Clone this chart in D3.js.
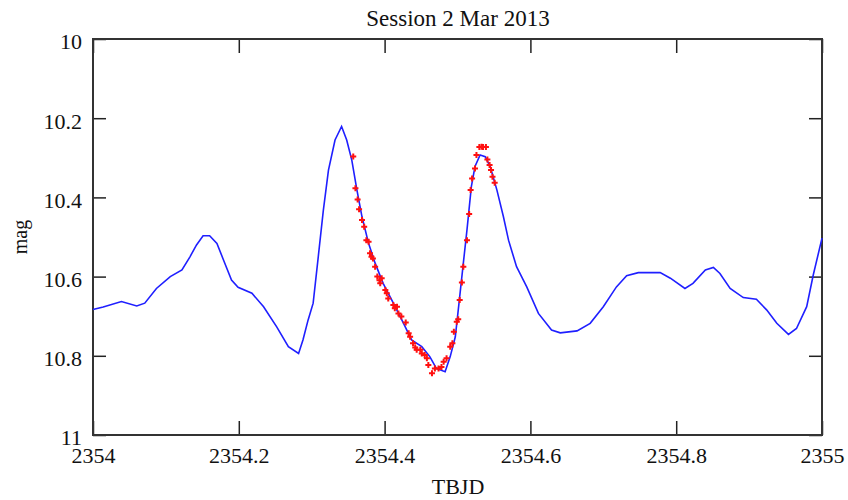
<!DOCTYPE html>
<html>
<head>
<meta charset="utf-8">
<script src="https://cdn.jsdelivr.net/npm/d3@7"></script>
<style>
  body { margin: 0; background: #fff; }
  text { font-family: "Liberation Serif", "Times New Roman", serif; fill: #111; }
</style>
</head>
<body>
<svg id="chart" width="848" height="500"></svg>
<script>
// model light curve (blue line)
const modelT = [2354.000, 2354.014, 2354.039, 2354.060, 2354.071, 2354.087, 2354.106, 2354.122, 2354.133, 2354.142,
  2354.151, 2354.160, 2354.170, 2354.179, 2354.190, 2354.199, 2354.218, 2354.234, 2354.252, 2354.268,
  2354.282, 2354.288, 2354.295, 2354.302, 2354.309, 2354.316, 2354.323, 2354.332, 2354.341, 2354.348,
  2354.355, 2354.362, 2354.369, 2354.378, 2354.387, 2354.398, 2354.412, 2354.426, 2354.437, 2354.451,
  2354.462, 2354.471, 2354.483, 2354.490, 2354.497, 2354.503, 2354.508, 2354.513, 2354.519, 2354.524,
  2354.531, 2354.538, 2354.545, 2354.554, 2354.563, 2354.570, 2354.581, 2354.595, 2354.611, 2354.629,
  2354.641, 2354.664, 2354.682, 2354.700, 2354.718, 2354.732, 2354.748, 2354.778, 2354.792, 2354.812,
  2354.823, 2354.840, 2354.851, 2354.860, 2354.874, 2354.892, 2354.910, 2354.924, 2354.938, 2354.954,
  2354.965, 2354.979, 2354.988, 2355.000];
const modelMag = [10.683, 10.677, 10.663, 10.674, 10.667, 10.630, 10.600, 10.583, 10.550, 10.520,
  10.497, 10.497, 10.516, 10.558, 10.609, 10.627, 10.642, 10.676, 10.727, 10.777,
  10.794, 10.760, 10.710, 10.667, 10.550, 10.432, 10.331, 10.255, 10.221, 10.255,
  10.306, 10.381, 10.449, 10.516, 10.566, 10.617, 10.667, 10.718, 10.760, 10.777,
  10.802, 10.832, 10.840, 10.802, 10.752, 10.651, 10.566, 10.482, 10.373, 10.322,
  10.293, 10.297, 10.323, 10.381, 10.449, 10.508, 10.575, 10.626, 10.693, 10.735,
  10.742, 10.737, 10.718, 10.676, 10.626, 10.598, 10.590, 10.590, 10.604, 10.630,
  10.617, 10.583, 10.577, 10.592, 10.630, 10.653, 10.657, 10.684, 10.718, 10.746,
  10.731, 10.676, 10.596, 10.503];

// observations (red crosses)
const obsT = [2354.357, 2354.360, 2354.363, 2354.365, 2354.369, 2354.372, 2354.375, 2354.378, 2354.380, 2354.382,
  2354.384, 2354.387, 2354.390, 2354.393, 2354.394, 2354.396, 2354.401, 2354.403, 2354.405, 2354.412,
  2354.414, 2354.417, 2354.419, 2354.423, 2354.429, 2354.433, 2354.435, 2354.439, 2354.442, 2354.444,
  2354.449, 2354.451, 2354.455, 2354.458, 2354.460, 2354.465, 2354.469, 2354.474, 2354.478, 2354.481,
  2354.485, 2354.490, 2354.493, 2354.495, 2354.499, 2354.501, 2354.503, 2354.506, 2354.508, 2354.513,
  2354.516, 2354.518, 2354.520, 2354.524, 2354.526, 2354.530, 2354.533, 2354.535, 2354.539, 2354.541,
  2354.544, 2354.546, 2354.548, 2354.551];
const obsMag = [10.297, 10.377, 10.405, 10.430, 10.457, 10.474, 10.508, 10.512, 10.541, 10.550,
  10.554, 10.575, 10.600, 10.609, 10.617, 10.604, 10.634, 10.642, 10.655, 10.672,
  10.680, 10.676, 10.693, 10.701, 10.716, 10.743, 10.752, 10.768, 10.779, 10.785,
  10.785, 10.794, 10.798, 10.806, 10.823, 10.844, 10.832, 10.832, 10.828, 10.815,
  10.806, 10.777, 10.768, 10.739, 10.714, 10.708, 10.659, 10.615, 10.575, 10.508,
  10.442, 10.381, 10.352, 10.327, 10.293, 10.273, 10.272, 10.273, 10.273, 10.304,
  10.318, 10.331, 10.348, 10.363];

const xTicks = [2354, 2354.2, 2354.4, 2354.6, 2354.8, 2355];
const yTicks = [10, 10.2, 10.4, 10.6, 10.8, 11];

const margin = {top: 39, left: 93, right: 26, bottom: 65};
const width = 848, height = 500;

const svg = d3.select("#chart");

const x = d3.scaleLinear()
    .domain([2354, 2355])
    .range([margin.left, width - margin.right]);

const y = d3.scaleLinear()
    .domain([10, 11])
    .range([margin.top, height - margin.bottom]);

// bottom axis, ticks pointing inward
svg.append("g")
    .attr("transform", `translate(0, ${y(11)})`)
    .call(d3.axisBottom(x).tickValues(xTicks).tickSize(-14).tickPadding(12)
        .tickFormat(d => d3.format("")(+d.toFixed(1))))
    .call(g => g.select(".domain").remove())
    .selectAll("text").style("font-size", "22px");

// left axis
svg.append("g")
    .attr("transform", `translate(${x(2354)}, 0)`)
    .call(d3.axisLeft(y).tickValues(yTicks).tickSize(-13).tickPadding(11)
        .tickFormat(d => d3.format("")(+d.toFixed(1))))
    .call(g => g.select(".domain").remove())
    .selectAll("text").attr("dy", "0.45em").style("font-size", "22px");

// mirrored ticks on top and right
svg.append("g")
    .attr("transform", `translate(0, ${y(10)})`)
    .call(d3.axisTop(x).tickValues(xTicks).tickSize(-14).tickFormat(""))
    .call(g => g.select(".domain").remove());

svg.append("g")
    .attr("transform", `translate(${x(2355)}, 0)`)
    .call(d3.axisRight(y).tickValues(yTicks).tickSize(-13).tickFormat(""))
    .call(g => g.select(".domain").remove());

svg.selectAll(".tick line").attr("stroke", "#222").attr("stroke-width", 1.5);

// frame
svg.append("rect")
    .attr("x", x(2354))
    .attr("y", y(10))
    .attr("width", x(2355) - x(2354))
    .attr("height", y(11) - y(10))
    .attr("fill", "none")
    .attr("stroke", "#333")
    .attr("stroke-width", 2);

// model line
const line = d3.line()
    .x((d, i) => x(modelT[i]))
    .y(d => y(d));

svg.append("path")
    .datum(modelMag)
    .attr("d", line)
    .attr("fill", "none")
    .attr("stroke", "#1f1fff")
    .attr("stroke-width", 1.6);

// observed points as + markers
const cross = d3.symbol().type(d3.symbolCross).size(0);
svg.append("g")
    .selectAll("path")
    .data(obsMag)
    .enter()
    .append("path")
    .attr("d", "M-3,0H3M0,-3V3")
    .attr("transform", (d, i) => `translate(${x(obsT[i])}, ${y(d)})`)
    .attr("stroke", "#ff1010")
    .attr("stroke-width", 2)
    .attr("fill", "none");

// titles
svg.append("text")
    .text("Session 2 Mar 2013")
    .attr("x", 458)
    .attr("y", 26)
    .attr("text-anchor", "middle")
    .style("font-size", "23px");

svg.append("text")
    .text("TBJD")
    .attr("x", 458)
    .attr("y", 494)
    .attr("text-anchor", "middle")
    .style("font-size", "22px");

svg.append("text")
    .text("mag")
    .attr("transform", "translate(27, 237) rotate(-90)")
    .attr("text-anchor", "middle")
    .style("font-size", "20px");
</script>
</body>
</html>
